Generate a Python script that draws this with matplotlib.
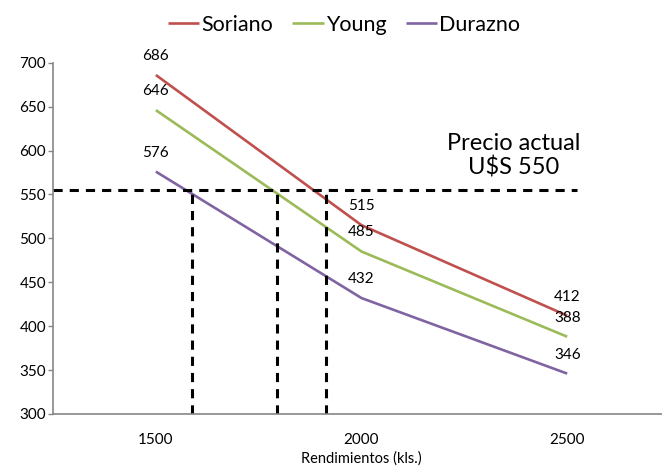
import matplotlib
matplotlib.use("Agg")
import matplotlib.pyplot as plt

plt.rcParams['font.family'] = ['Lato', 'DejaVu Sans']

rendimientos = [1500, 2000, 2500]
soriano = [686, 515, 412]
young = [646, 485, 388]
durazno = [576, 432, 346]
series = [("Soriano", soriano, "#C0504D"),
          ("Young", young, "#9BBB59"),
          ("Durazno", durazno, "#8064A2")]

precio_y = 555            # where the dashed "precio actual" line sits
cortes_x = [1589, 1794, 1914]   # vertical dashed lines (crossings)
precio_x_fin = 2524

fig = plt.figure(figsize=(6.62, 4.68), dpi=100)
ax = fig.add_axes([0.0801, 0.1154, 0.932, 0.7506])

for nombre, vals, color in series:
    ax.plot(rendimientos, vals, color=color, linewidth=1.9, label=nombre,
            solid_capstyle="butt")
    for x, v in zip(rendimientos, vals):
        ax.annotate(str(v), (x, v), xytext=(0, 13.7), textcoords="offset points",
                    ha="center", va="center", fontsize=11, color="black")

# dashed reference lines
ax.plot([1250, precio_x_fin], [precio_y, precio_y], color="black", linewidth=2.2,
        dashes=(3.0, 2.3), clip_on=False)
for cx in cortes_x:
    ax.plot([cx, cx], [300, precio_y], color="black", linewidth=2.2,
            dashes=(3.0, 2.3))

ax.text(2369, 594, "Precio actual\nU$S 550", ha="center", va="center",
        fontsize=17, linespacing=1.15, multialignment="center")

ax.set_xlim(1250, 2750)
ax.set_ylim(300, 700)
ax.set_xticks(rendimientos)
ax.set_xticklabels([str(r) for r in rendimientos])
ax.set_yticks(range(300, 701, 50))
ax.tick_params(axis="x", length=0, pad=14, labelsize=11)
ax.tick_params(axis="y", length=3.6, width=1, color="#868686", pad=1.5, labelsize=11)
ax.set_xlabel("Rendimientos (kls.)", fontsize=10.5, labelpad=3)

for s in ["top", "right"]:
    ax.spines[s].set_visible(False)
for s in ["left", "bottom"]:
    ax.spines[s].set_color("#868686")
    ax.spines[s].set_linewidth(1.2)

fig.legend(loc="center", bbox_to_anchor=(344 / 662, 1 - 25 / 468), ncol=3,
           frameon=False, fontsize=15.5, handlelength=1.45, handletextpad=0.1,
           columnspacing=0.9)

fig.savefig("out.png", dpi=100)
